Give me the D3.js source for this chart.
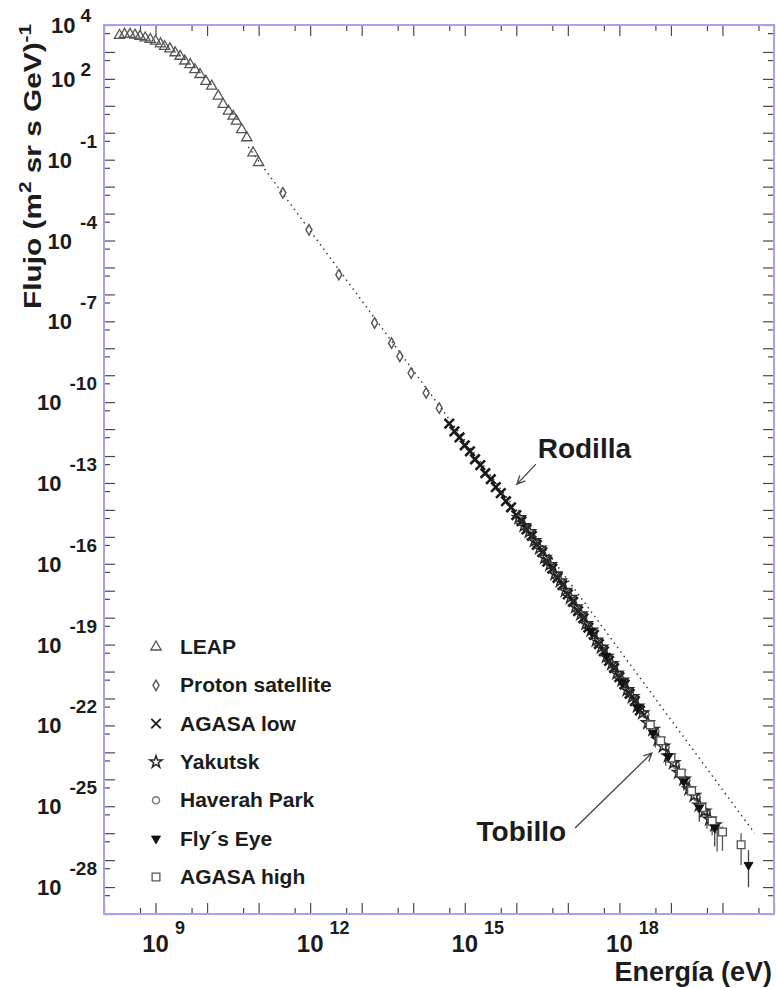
<!DOCTYPE html>
<html>
<head>
<meta charset="utf-8">
<script src="https://cdn.jsdelivr.net/npm/d3@7"></script>
<style>
  body { margin: 0; background: #fff; }
  svg { display: block; }
  text { font-family: "Liberation Sans", Arial, Helvetica, sans-serif; font-weight: bold; fill: #1c1c1c; }
</style>
</head>
<body>
<svg id="chart" width="776" height="988"></svg>
<script>
// Cosmic-ray energy spectrum: energy in eV, flux in (m^2 sr s GeV)^-1

// LEAP
const leapE = [2.0e8, 2.5e8, 3.2e8, 4.0e8, 5.0e8, 6.3e8, 7.9e8, 1.0e9, 1.25e9, 1.5e9, 1.9e9, 2.4e9, 3.0e9, 3.7e9,
               4.7e9, 5.8e9, 7.3e9, 9.5e9, 1.23e10, 1.65e10, 2.05e10, 2.6e10, 3.2e10, 3.7e10, 4.7e10, 5.9e10, 7.8e10, 1.0e11];
const leapF = [4.1e3, 4.5e3, 4.5e3, 4.2e3, 3.8e3, 3.3e3, 2.9e3, 2.5e3, 2.0e3, 1.6e3, 1.3e3, 9.3e2, 6.9e2, 4.6e2,
               3.4e2, 2.2e2, 1.45e2, 81, 54, 23, 11.2, 6.3, 4.1, 2.7, 1.3, 0.65, 0.18, 0.078];

// Proton satellite
const protonE = [2.95e11, 9.5e11, 3.6e12, 1.78e13, 3.8e13, 5.5e13, 9.1e13, 1.78e14, 3.2e14];
const protonF = [5.9e-3, 2.5e-4, 5.4e-6, 8.7e-8, 1.55e-8, 5.0e-9, 1.2e-9, 2.2e-10, 6.0e-11];

// AGASA low
const agasaLowE = [5.0e14, 6.3e14, 7.9e14, 1.0e15, 1.26e15, 1.58e15, 2.0e15, 2.5e15, 3.2e15, 4.0e15, 5.0e15, 6.3e15, 7.9e15,
                   1.0e16, 1.26e16, 1.58e16, 2.0e16, 2.5e16, 3.2e16, 4.0e16, 5.0e16, 6.3e16, 7.9e16,
                   1.0e17, 1.26e17, 1.58e17, 2.0e17, 2.5e17, 3.2e17, 4.0e17, 5.0e17, 6.3e17, 7.9e17,
                   1.0e18, 1.26e18, 1.58e18, 2.0e18, 2.5e18];
const agasaLowF = [1.6e-11, 8.2e-12, 4.9e-12, 2.5e-12, 1.5e-12, 7.6e-13, 4.6e-13, 2.3e-13, 1.38e-13, 7.0e-14, 4.2e-14, 2.1e-14, 1.25e-14,
                   6.4e-15, 3.8e-15, 1.9e-15, 1.1e-15, 5.0e-16, 2.7e-16, 1.2e-16, 6.6e-17, 3.0e-17, 1.6e-17,
                   7.3e-18, 3.9e-18, 1.75e-18, 9.5e-19, 4.3e-19, 2.3e-19, 1.05e-19, 5.6e-20, 2.5e-20, 1.35e-20,
                   6.2e-21, 3.3e-21, 1.5e-21, 8.0e-22, 3.6e-22];

// Yakutsk
const yakutskE = [1.12e16, 1.41e16, 1.78e16, 2.24e16, 2.82e16, 3.55e16, 4.47e16, 5.62e16, 7.08e16, 8.91e16,
                  1.12e17, 1.41e17, 1.78e17, 2.24e17, 2.82e17, 3.55e17, 4.47e17, 5.62e17, 7.08e17, 8.91e17,
                  1.12e18, 1.41e18, 1.78e18, 2.24e18, 2.82e18, 3.55e18, 4.47e18, 5.62e18, 7.08e18, 8.91e18,
                  1.12e19, 1.41e19, 1.78e19, 2.24e19, 2.82e19, 3.55e19, 4.47e19, 5.62e19, 7.08e19];
const yakutskF = [5.1e-15, 2.6e-15, 1.55e-15, 7.2e-16, 3.8e-16, 1.7e-16, 9.3e-17, 4.2e-17, 2.3e-17, 1.02e-17,
                  5.6e-18, 2.5e-18, 1.36e-18, 6.0e-19, 3.4e-19, 1.45e-19, 8.0e-20, 3.6e-20, 1.95e-20, 8.7e-21,
                  4.8e-21, 2.1e-21, 1.15e-21, 5.2e-22, 2.9e-22, 1.25e-22, 7.0e-23, 3.0e-23, 1.7e-23, 7.4e-24,
                  4.1e-24, 1.8e-24, 1.0e-24, 4.4e-25, 2.5e-25, 1.1e-25, 6.6e-26, 3.3e-26, 2.0e-26];

// Haverah Park (relative errors below / above each point)
const haverahE = [2.0e17, 3.2e17, 5.0e17, 7.9e17, 1.26e18, 2.0e18, 3.2e18, 5.0e18, 7.9e18, 1.26e19, 2.0e19, 3.2e19, 5.0e19, 7.9e19];
const haverahF = [1.12e-18, 2.75e-19, 7.1e-20, 1.6e-20, 4.2e-21, 9.8e-22, 2.6e-22, 6.0e-23, 1.6e-23, 3.4e-24, 9.3e-25, 2.1e-25, 5.9e-26, 1.4e-26];
const haverahErrLo = [0.08, 0.08, 0.1, 0.1, 0.12, 0.15, 0.3, 0.75, 0.8, 0.5, 0.55, 0.6, 0.75, 0.85];
const haverahErrHi = [0.08, 0.08, 0.1, 0.1, 0.12, 0.15, 0.25, 0.4, 0.45, 0.3, 0.35, 0.4, 0.5, 0.6];

// Fly's Eye
const flysEyeE = [2.8e17, 5.6e17, 1.12e18, 2.24e18, 4.47e18, 8.91e18, 1.78e19, 3.55e19, 7.08e19, 3.2e20];
const flysEyeF = [3.2e-19, 3.8e-20, 4.0e-21, 4.6e-22, 5.2e-23, 7.1e-24, 8.3e-25, 8.9e-26, 1.6e-26, 6.6e-28];
const flysEyeErrLo = [0.05, 0.06, 0.08, 0.1, 0.2, 0.4, 0.55, 0.7, 0.8, 0.85];
const flysEyeErrHi = [0.05, 0.06, 0.08, 0.1, 0.2, 0.3, 0.4, 0.5, 0.7, 2.55];

// AGASA high
const agasaHighE = [3.98e18, 6.31e18, 1.0e19, 1.58e19, 2.51e19, 3.98e19, 6.31e19, 1.0e20, 2.3e20];
const agasaHighF = [1.05e-22, 2.7e-23, 6.2e-24, 1.7e-24, 3.7e-25, 8.9e-26, 2.8e-26, 1.1e-26, 3.7e-27];
const agasaHighErrLo = [0.1, 0.15, 0.2, 0.3, 0.45, 0.55, 0.7, 0.8, 0.82];
const agasaHighErrHi = [0.1, 0.15, 0.2, 0.25, 0.35, 0.45, 0.5, 0.6, 1.7];

// Reference power law drawn as a dotted line
const powerLawE = [6.3e10, 4.2e20];
const powerLawF = [0.3, 1.0e-26];

// Axis labels (powers of ten)
const xLabelExps = [9, 12, 15, 18];
const yLabelExps = [4, 2, -1, -4, -7, -10, -13, -16, -19, -22, -25, -28];

// Legend entries
const legendNames = ["LEAP", "Proton satellite", "AGASA low", "Yakutsk", "Haverah Park", "Fly\u00b4s Eye", "AGASA high"];

// Annotations (positions in data units)
const kneeText = {E: 2.6e16, F: 8.5e-13, label: "Rodilla"};
const kneeArrow = {fromE: 2.4e16, fromF: 5.0e-13, toE: 1.03e16, toF: 9.1e-14};
const ankleText = {E: 9.3e16, F: 5.1e-27, label: "Tobillo"};
const ankleArrow = {fromE: 1.38e17, fromF: 1.55e-26, toE: 4.27e18, toF: 9.5e-24};

const svg = d3.select("#chart");
const L = 104, R = 774, T = 25, B = 914;
const x = d3.scaleLog().domain([1e8, 1e21]).range([L, R]);
const y = d3.scaleLog().domain([1e-29, 1e4]).range([B, T]);

// Ticks: decades long, 5x short, on all four sides pointing inward
const xMajor = d3.range(8, 22).map(e => Math.pow(10, e));
const xMinor = d3.range(8, 21).map(e => 5 * Math.pow(10, e));
const yMajor = d3.range(-29, 5).map(e => Math.pow(10, e));
const yMinor = d3.range(-29, 4).map(e => 5 * Math.pow(10, e));

function tickAxis(axisFn, scale, values, size, transform) {
  const g = svg.append("g").attr("transform", transform)
    .call(axisFn(scale).tickValues(values).tickSize(-size).tickFormat(""));
  g.select(".domain").remove();
  g.selectAll(".tick line").attr("stroke", "#4a4a4a").attr("stroke-width", 1.2);
}
tickAxis(d3.axisBottom, x, xMajor, 11, `translate(0,${B})`);
tickAxis(d3.axisBottom, x, xMinor, 6, `translate(0,${B})`);
tickAxis(d3.axisTop, x, xMajor, 11, `translate(0,${T})`);
tickAxis(d3.axisTop, x, xMinor, 6, `translate(0,${T})`);
tickAxis(d3.axisLeft, y, yMajor, 11, `translate(${L},0)`);
tickAxis(d3.axisLeft, y, yMinor, 6, `translate(${L},0)`);
tickAxis(d3.axisRight, y, yMajor, 11, `translate(${R},0)`);
tickAxis(d3.axisRight, y, yMinor, 6, `translate(${R},0)`);

// Frame
svg.append("rect").attr("x", L).attr("y", T).attr("width", R - L).attr("height", B - T)
  .attr("fill", "none").attr("stroke", "#a4a4e8").attr("stroke-width", 2);

// Y labels: "10" centred on the tick, exponent raised and right-aligned
yLabelExps.forEach(e => {
  const ty = y(Math.pow(10, e));
  const pos = e > 0;
  const ex = svg.append("text").attr("x", pos ? 91 : 97).attr("y", pos ? ty - 3 : ty - 12)
    .attr("text-anchor", "end").style("font-size", "19px").text(e);
  const w = ex.node().getComputedTextLength();
  svg.append("text").attr("x", (pos ? 91 : 97) - w - (pos ? 5 : 8)).attr("y", ty + 8)
    .attr("text-anchor", "end").style("font-size", "22px").text("10");
});

// X labels
xLabelExps.forEach(e => {
  const tx = x(Math.pow(10, e));
  const base = svg.append("text").attr("x", tx).attr("y", 952)
    .attr("text-anchor", "middle").style("font-size", "24px").text("10");
  const w = base.node().getComputedTextLength();
  svg.append("text").attr("x", tx + w / 2 + 6).attr("y", 934)
    .style("font-size", "18px").text(e);
});

// Axis titles
svg.append("text").attr("x", 772).attr("y", 981).attr("text-anchor", "end")
  .style("font-size", "27px").text("Energía (eV)");

const yTitle = svg.append("text").attr("text-anchor", "end").style("font-size", "23px");
yTitle.append("tspan").text("Flujo  (m");
yTitle.append("tspan").attr("dy", -10).style("font-size", "16px").text("2");
yTitle.append("tspan").attr("dy", 10).text(" sr s GeV)");
yTitle.append("tspan").attr("dy", -10).style("font-size", "16px").text("-1");
// the title is drawn elongated along its reading direction
const titleLen = yTitle.node().getComputedTextLength();
yTitle.attr("transform", `translate(41,24) rotate(-90) scale(${285 / titleLen},1)`);

// Dotted power law
svg.append("path")
  .datum(powerLawE.map((e, i) => [e, powerLawF[i]]))
  .attr("d", d3.line().x(d => x(d[0])).y(d => y(d[1])))
  .attr("fill", "none").attr("stroke", "#333").attr("stroke-width", 1.4)
  .attr("stroke-dasharray", "1.5,4");

// Error bars
function errorBars(E, F, lo, hi, color) {
  svg.append("g").selectAll("line").data(E).join("line")
    .attr("x1", (d) => x(d)).attr("x2", (d) => x(d))
    .attr("y1", (d, i) => y(F[i] * (1 - lo[i])))
    .attr("y2", (d, i) => y(F[i] * (1 + hi[i])))
    .attr("stroke", color).attr("stroke-width", 1.3);
}
errorBars(haverahE, haverahF, haverahErrLo, haverahErrHi, "#555");
errorBars(flysEyeE, flysEyeF, flysEyeErrLo, flysEyeErrHi, "#444");
errorBars(agasaHighE, agasaHighF, agasaHighErrLo, agasaHighErrHi, "#555");

// Marker styles
const markers = {
  leap:    {path: d3.symbol(d3.symbolTriangle, 46)(), fill: "none", stroke: "#555", sw: 1.3, rot: 0},
  proton:  {path: d3.symbol(d3.symbolDiamond, 32)(), fill: "none", stroke: "#555", sw: 1.4, rot: 0},
  agasaLo: {path: d3.symbol(d3.symbolX, 60)(), fill: "none", stroke: "#1a1a1a", sw: 2.6, rot: 0},
  yakutsk: {path: d3.symbol(d3.symbolStar, 46)(), fill: "none", stroke: "#2a2a2a", sw: 1.5, rot: 0},
  haverah: {path: d3.symbol(d3.symbolCircle, 40)(), fill: "none", stroke: "#777", sw: 1.4, rot: 0},
  flys:    {path: d3.symbol(d3.symbolTriangle, 34)(), fill: "#111", stroke: "#111", sw: 1, rot: 180},
  agasaHi: {path: d3.symbol(d3.symbolSquare, 60)(), fill: "#fff", stroke: "#555", sw: 1.3, rot: 0}
};

function scatter(E, F, m) {
  svg.append("g").selectAll("path").data(E).join("path")
    .attr("d", m.path)
    .attr("transform", (d, i) => `translate(${x(d)},${y(F[i])}) rotate(${m.rot})`)
    .attr("fill", m.fill).attr("stroke", m.stroke).attr("stroke-width", m.sw);
}
scatter(leapE, leapF, markers.leap);
scatter(protonE, protonF, markers.proton);
scatter(haverahE, haverahF, markers.haverah);
scatter(agasaLowE, agasaLowF, markers.agasaLo);
scatter(yakutskE, yakutskF, markers.yakutsk);
scatter(agasaHighE, agasaHighF, markers.agasaHi);
scatter(flysEyeE, flysEyeF, markers.flys);

// Legend
const legendMarkers = [markers.leap, markers.proton, markers.agasaLo, markers.yakutsk, markers.haverah, markers.flys, markers.agasaHi];
const legendY = d3.scalePoint().domain(legendNames).range([647, 877]);
legendNames.forEach((name, i) => {
  const m = legendMarkers[i];
  const ly = legendY(name);
  svg.append("path").attr("d", m.path)
    .attr("transform", `translate(156,${ly}) rotate(${m.rot})`)
    .attr("fill", m.fill).attr("stroke", m.stroke).attr("stroke-width", Math.min(m.sw, 1.8));
  svg.append("text").attr("x", 180).attr("y", ly + 7).style("font-size", "21px").text(name);
});

// Annotations with open arrowheads
function arrow(x1, y1, x2, y2) {
  const a = Math.atan2(y2 - y1, x2 - x1), h = 9, s = 0.45;
  svg.append("path")
    .attr("d", `M${x1},${y1}L${x2},${y2}M${x2 - h * Math.cos(a - s)},${y2 - h * Math.sin(a - s)}L${x2},${y2}L${x2 - h * Math.cos(a + s)},${y2 - h * Math.sin(a + s)}`)
    .attr("fill", "none").attr("stroke", "#444").attr("stroke-width", 1.3);
}
svg.append("text").attr("x", x(kneeText.E)).attr("y", y(kneeText.F))
  .style("font-size", "28px").text(kneeText.label);
arrow(x(kneeArrow.fromE), y(kneeArrow.fromF), x(kneeArrow.toE), y(kneeArrow.toF));
svg.append("text").attr("x", x(ankleText.E)).attr("y", y(ankleText.F)).attr("text-anchor", "end")
  .style("font-size", "28px").text(ankleText.label);
arrow(x(ankleArrow.fromE), y(ankleArrow.fromF), x(ankleArrow.toE), y(ankleArrow.toF));
</script>
</body>
</html>
